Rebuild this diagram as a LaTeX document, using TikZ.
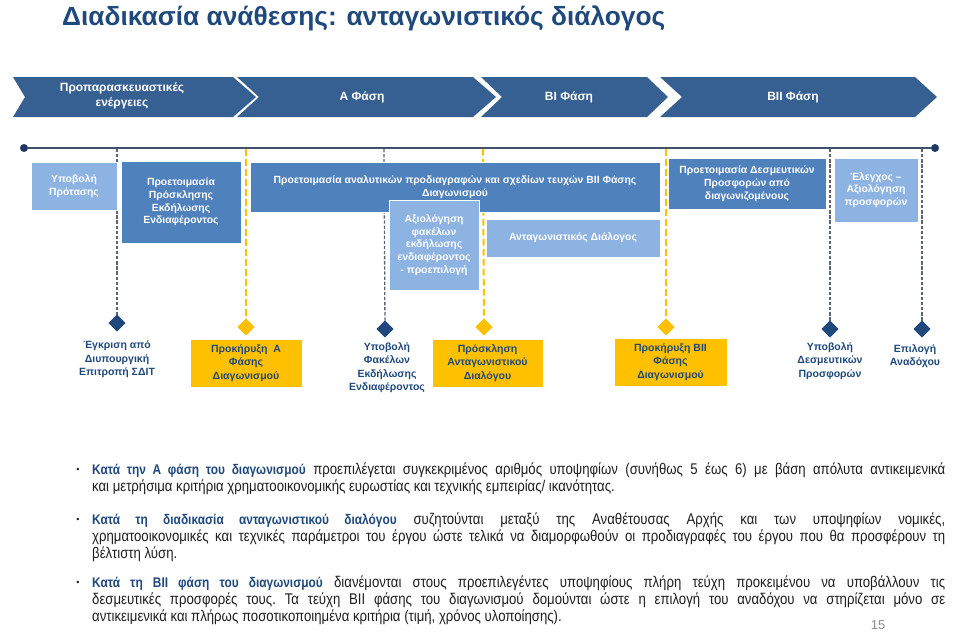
\documentclass[tikz,border=0pt]{standalone}
\usepackage{fontspec}
\setmainfont{Liberation Sans}
\newfontfamily\narrowfont[FakeStretch=0.85]{Liberation Sans}
\usetikzlibrary{shapes.geometric}
\definecolor{chev}{RGB}{55,96,146}
\definecolor{medblue}{RGB}{79,129,189}
\definecolor{lightblue}{RGB}{141,179,226}
\definecolor{darkblue}{RGB}{31,73,125}
\definecolor{myyellow}{RGB}{255,192,0}
\definecolor{dashgray}{RGB}{90,100,115}
\definecolor{tline}{RGB}{63,80,104}
\definecolor{tdot}{RGB}{31,56,100}
\definecolor{bodytext}{RGB}{30,30,30}
\definecolor{pagegray}{RGB}{140,140,140}
\newcommand\bodysetup{\tolerance=10000\hyphenpenalty=10000\frenchspacing\strut}
\newcommand\leadin[1]{{\fontsize{14}{17}\selectfont\bfseries\color{darkblue}#1}}
\tikzset{
  chevtext/.style={text=white, font=\bfseries\fontsize{12}{15}\selectfont, align=center, inner sep=0pt},
  topbox/.style={draw=white, line width=0.6pt, text=white, font=\bfseries\fontsize{10.4}{12.8}\selectfont, align=center, inner sep=0pt},
  medbox/.style={topbox, fill=medblue},
  lightbox/.style={topbox, fill=lightblue},
  ybox/.style={draw=white, line width=0.6pt, fill=myyellow, text=darkblue, font=\bfseries\fontsize{10.5}{13.5}\selectfont, align=center, inner sep=0pt},
  mlabel/.style={text=darkblue, font=\bfseries\fontsize{10.5}{13.5}\selectfont, align=center, inner sep=0pt, anchor=north},
  bdiam/.style={diamond, fill=darkblue, minimum size=17pt, inner sep=0pt},
  ydiam/.style={diamond, fill=myyellow, minimum size=17pt, inner sep=0pt},
  graydash/.style={draw=dashgray, line width=1.3pt, dash pattern=on 3.3pt off 1.8pt},
  yelldash/.style={draw=myyellow, line width=2pt, dash pattern=on 6.5pt off 3.5pt},
  bullettext/.style={text width=853pt, align=justify, inner sep=0pt, anchor=north west, text=bodytext,
    font=\narrowfont\fontsize{15.5}{17}\selectfont},
  bulletdot/.style={text=bodytext, font=\fontsize{9}{10}\selectfont, inner sep=0pt}
}
\begin{document}
\begin{tikzpicture}[x=1pt,y=-1pt]
\useasboundingbox (0,0) rectangle (960,632);

% title
\node[anchor=base west, inner sep=0pt, text=darkblue, font=\bfseries\fontsize{26.3}{30}\selectfont] (title) at (62,25) {Διαδικασία ανάθεσης: ανταγωνιστικός διάλογος};

% phase chevrons
\fill[chev] (13,77) -- (233,77) -- (256,97) -- (233,117) -- (13,117) -- (25,97) -- cycle;
\fill[chev] (237,77) -- (473,77) -- (496,97) -- (473,117) -- (237,117) -- (259,97) -- cycle;
\fill[chev] (481,77) -- (647,77) -- (668,97) -- (647,117) -- (481,117) -- (502,97) -- cycle;
\fill[chev] (660,77) -- (915,77) -- (937,97) -- (915,117) -- (660,117) -- (682,97) -- cycle;
\node[chevtext] (ph0) at (122,96) {Προπαρασκευαστικές\\ενέργειες};
\node[chevtext] (ph1) at (362,97) {Α Φάση};
\node[chevtext] (ph2) at (569,97) {ΒΙ Φάση};
\node[chevtext] (ph3) at (793,97) {ΒΙΙ Φάση};

% timeline
\node[circle, fill=tdot, minimum size=8pt, inner sep=0pt] (tl0) at (24,148) {};
\node[circle, fill=tdot, minimum size=8pt, inner sep=0pt] (tl1) at (935,148) {};
\draw[tline, line width=1.3pt] (tl0) -- (tl1);

% milestone diamonds
\node[bdiam] (m1) at (117,323) {};
\node[ydiam] (m2) at (246,327) {};
\node[bdiam] (m3) at (385,329) {};
\node[ydiam] (m4) at (484,327) {};
\node[ydiam] (m5) at (666,327) {};
\node[bdiam] (m6) at (830,329) {};
\node[bdiam] (m7) at (922,329) {};

\coordinate (c1) at (117,149);
\coordinate (c2) at (246,149);
\coordinate (c3) at (384,149);
\coordinate (c4) at (483,149);
\coordinate (c5) at (666,149);
\coordinate (c6) at (830,149);
\coordinate (c7) at (922,149);
\draw[graydash] (c1) -- (m1.center);
\draw[yelldash] (c2) -- (m2.center);
\draw[graydash] (c3) -- (m3.center);
\draw[yelldash] (c4) -- (m4.center);
\draw[yelldash] (c5) -- (m5.center);
\draw[graydash] (c6) -- (m6.center);
\draw[graydash] (c7) -- (m7.center);
% diamonds again on top of the line ends
\node[bdiam] at (m1) {};
\node[ydiam] at (m2) {};
\node[bdiam] at (m3) {};
\node[ydiam] at (m4) {};
\node[ydiam] at (m5) {};
\node[bdiam] at (m6) {};
\node[bdiam] at (m7) {};

% activity boxes
\node[lightbox, minimum width=86pt, minimum height=48pt] (t1) at (74,186) {Υποβολή\\Πρότασης};
\node[medbox, minimum width=120pt, minimum height=82pt] (t2) at (181,202) {Προετοιμασία\\Πρόσκλησης\\Εκδήλωσης\\Ενδιαφέροντος};
\node[medbox, minimum width=410pt, minimum height=50pt] (t3) at (455,187) {Προετοιμασία αναλυτικών προδιαγραφών και σχεδίων τευχών ΒΙΙ Φάσης\\Διαγωνισμού};
\node[lightbox, minimum width=90pt, minimum height=90pt] (t4) at (434,245) {Αξιολόγηση\\φακέλων\\εκδήλωσης\\ενδιαφέροντος\\- προεπιλογή};
\node[lightbox, minimum width=174pt, minimum height=38pt] (t5) at (573,238) {Ανταγωνιστικός Διάλογος};
\node[medbox, minimum width=158pt, minimum height=51pt] (t6) at (747,183.5) {Προετοιμασία Δεσμευτικών\\Προσφορών από\\διαγωνιζομένους};
\node[lightbox, minimum width=84pt, minimum height=64pt] (t7) at (876,190) {Έλεγχος –\\Αξιολόγηση\\προσφορών};

% milestone labels
\node[mlabel] (l1) at (117,341) {Έγκριση από\\Διυπουργική\\Επιτροπή ΣΔΙΤ};
\node[ybox, minimum width=112pt, minimum height=48pt] (y1) at (246,363) {Προκήρυξη\ \ Α\\Φάσης\\Διαγωνισμού};
\node[mlabel] (l2) at (387,342) {Υποβολή\\Φακέλων\\Εκδήλωσης\\Ενδιαφέροντος};
\node[ybox, minimum width=111pt, minimum height=48pt] (y2) at (487.5,363) {Πρόσκληση\\Ανταγωνιστικού\\Διαλόγου};
\node[ybox, minimum width=113pt, minimum height=48pt] (y3) at (670.5,362) {Προκήρυξη ΒΙΙ\\Φάσης\\Διαγωνισμού};
\node[mlabel] (l3) at (830,342) {Υποβολή\\Δεσμευτικών\\Προσφορών};
\node[mlabel] (l4) at (915,344) {Επιλογή\\Αναδόχου};

% bullets
\node[bulletdot] (d1) at (78,470) {•};
\node[bulletdot] (d2) at (78,520) {•};
\node[bulletdot] (d3) at (78,583) {•};
\node[bullettext] (b1) at (92,462.5) {\bodysetup\leadin{Κατά την Α φάση του διαγωνισμού} προεπιλέγεται συγκεκριμένος αριθμός υποψηφίων (συνήθως 5 έως 6) με βάση απόλυτα αντικειμενικά\linebreak και μετρήσιμα κριτήρια χρηματοοικονομικής ευρωστίας και τεχνικής εμπειρίας/ ικανότητας.};
\node[bullettext] (b2) at (92,512.5) {\bodysetup\leadin{Κατά τη διαδικασία ανταγωνιστικού διαλόγου} συζητούνται μεταξύ της Αναθέτουσας Αρχής και των υποψηφίων νομικές,\linebreak χρηματοοικονομικές και τεχνικές παράμετροι του έργου ώστε τελικά να διαμορφωθούν οι προδιαγραφές του έργου που θα προσφέρουν τη\linebreak βέλτιστη λύση.};
\node[bullettext] (b3) at (92,575.5) {\bodysetup\leadin{Κατά τη ΒΙΙ φάση του διαγωνισμού} διανέμονται στους προεπιλεγέντες υποψηφίους πλήρη τεύχη προκειμένου να υποβάλλουν τις\linebreak δεσμευτικές προσφορές τους. Τα τεύχη ΒΙΙ φάσης του διαγωνισμού δομούνται ώστε η επιλογή του αναδόχου να στηρίζεται μόνο σε\linebreak αντικειμενικά και πλήρως ποσοτικοποιημένα κριτήρια (τιμή, χρόνος υλοποίησης).};

\node[text=pagegray, font=\fontsize{13}{15}\selectfont, inner sep=0pt] (pg) at (878,625) {15};
\end{tikzpicture}
\end{document}
